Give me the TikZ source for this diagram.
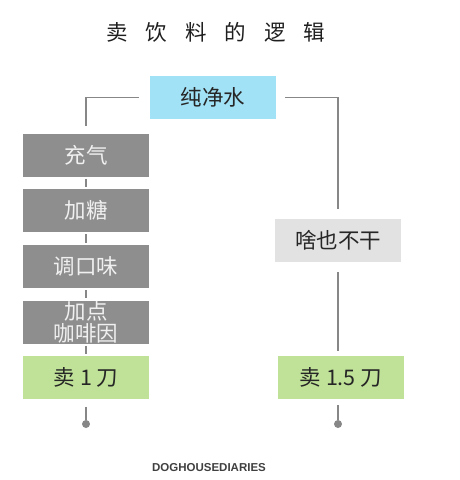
\documentclass[tikz,border=0pt]{standalone}
\usepackage{fontspec}
\usepackage{xcolor}
\usepackage{tikz}
\usetikzlibrary{positioning,calc}
\setmainfont{Noto Sans CJK SC}
\newfontfamily\logofont{Liberation Sans}
\definecolor{waterblue}{RGB}{162,226,246}
\definecolor{sellgreen}{RGB}{192,226,152}
\definecolor{stepgray}{RGB}{142,142,142}
\definecolor{idlegray}{RGB}{226,226,226}
\definecolor{linegray}{RGB}{135,135,135}

\begin{document}
\begin{tikzpicture}[
        x=1pt,y=-1pt,
        node distance=12.3pt,
        every node/.style={align=center,inner sep=0pt},
        box/.style={minimum width=126pt,minimum height=43pt,
                   font=\fontsize{21.5}{22}\selectfont},
        water/.style={box,fill=waterblue,text=black!85},
        stepbox/.style={box,fill=stepgray,text=white!94!black},
        idle/.style={box,fill=idlegray,text=black!85},
        sell/.style={box,fill=sellgreen,text=black!85},
        link/.style={draw=linegray,line width=1.2pt},
        enddot/.style={circle,fill=linegray,minimum size=8pt}
    ]
        \useasboundingbox (0,0) rectangle (460,480);
        \node[font=\fontsize{21.5}{21}\selectfont,text=black!88] (title) at (216,32)
        {卖\hspace{18pt}饮\hspace{18pt}料\hspace{18pt}的\hspace{18pt}逻\hspace{18pt}辑};
        \node[water] (water) at (213,97.5) {纯净水};
        \node[stepbox] (gas) at (86,155) {充气};
        \node[stepbox,below=of gas] (sugar) {加糖};
        \node[stepbox,below=of sugar] (flavor) {调口味};
        \node[stepbox,below=of flavor] (caffeine) {加点\\咖啡因};
        \node[sell,below=of caffeine] (sellone) {卖 1 刀};
        \node[idle] (idle) at (338,240.5) {啥也不干};
        \node[sell] (sellmore) at (341,377.5) {卖 1.5 刀};
        \node[enddot] (dotleft) at (86,424) {};
        \node[enddot] (dotright) at (338,424) {};
        \node[font=\logofont\bfseries\fontsize{11.5}{12}\selectfont,text=black!75] (credit)
            at (209,468) {DOGHOUSEDIARIES};
        \draw[link] ([xshift=-11pt]water.west) -| ([yshift=7pt]gas.north);
        \draw[link,shorten <=2pt,shorten >=2pt] (gas) -- (sugar);
        \draw[link,shorten <=2pt,shorten >=2pt] (sugar) -- (flavor);
        \draw[link,shorten <=2pt,shorten >=2pt] (flavor) -- (caffeine);
        \draw[link,shorten <=2pt,shorten >=2pt] (caffeine) -- (sellone);
        \draw[link] ([yshift=-7pt]sellone.south) -- (dotleft);
        \draw[link] ([xshift=9pt]water.east) -| ([yshift=10pt]idle.north);
        \draw[link] ([yshift=-10pt]idle.south) -- ($(idle.south |- sellmore.north)+(0,-5)$);
        \draw[link] ($(dotright |- sellmore.south)+(0,6)$) -- (dotright);
    \end{tikzpicture}
\end{document}
